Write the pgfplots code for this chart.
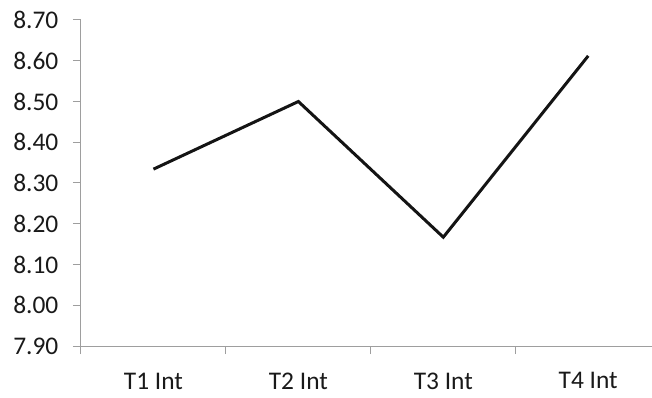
\documentclass[border=0pt]{standalone}
\usepackage{fontspec}
\setmainfont{Carlito}
\usepackage{pgfplots}
\pgfplotsset{compat=1.18}
\begin{document}
\fontsize{25.5}{30}\selectfont
\begin{tikzpicture}
\begin{axis}[
  scale only axis,
  width=571bp, height=326bp,
  xmin=-0.5, xmax=3.44,
  ymin=7.9, ymax=8.7,
  ytick={7.9,8.0,8.1,8.2,8.3,8.4,8.5,8.6,8.7},
  xtick={0,1,2,3},
  xticklabels={T1 Int,T2 Int,T3 Int,T4 Int},
  minor xtick={-0.5,0.5,1.5,2.5},
  axis x line*=bottom, axis y line*=left,
  axis line style={draw=black!38, line width=1bp, -},
  tick align=outside,
  major tick length=8bp, minor tick length=8bp,
  x tick style={draw=none},
  minor x tick style={draw=black!38, line width=1bp},
  y tick style={draw=black!38, line width=1bp},
  /pgf/number format/.cd, fixed, fixed zerofill, precision=2, assume math mode=true,
  /pgfplots/.cd,
  yticklabel style={font=\fontsize{25.5}{30}\selectfont, text=black!90, xshift=-6bp},
  xticklabel style={font=\fontsize{25.5}{30}\selectfont, text=black!90, yshift=-10bp},
  clip=false,
]
\addplot[black!92, line width=3bp, mark=none] coordinates {(0,8.334) (1,8.50) (2,8.167) (3,8.612)};
\end{axis}
\pgfresetboundingbox
\path (current axis.south west) ++(-81bp,-52bp) rectangle ++(652bp,398bp);
\end{tikzpicture}
\end{document}
